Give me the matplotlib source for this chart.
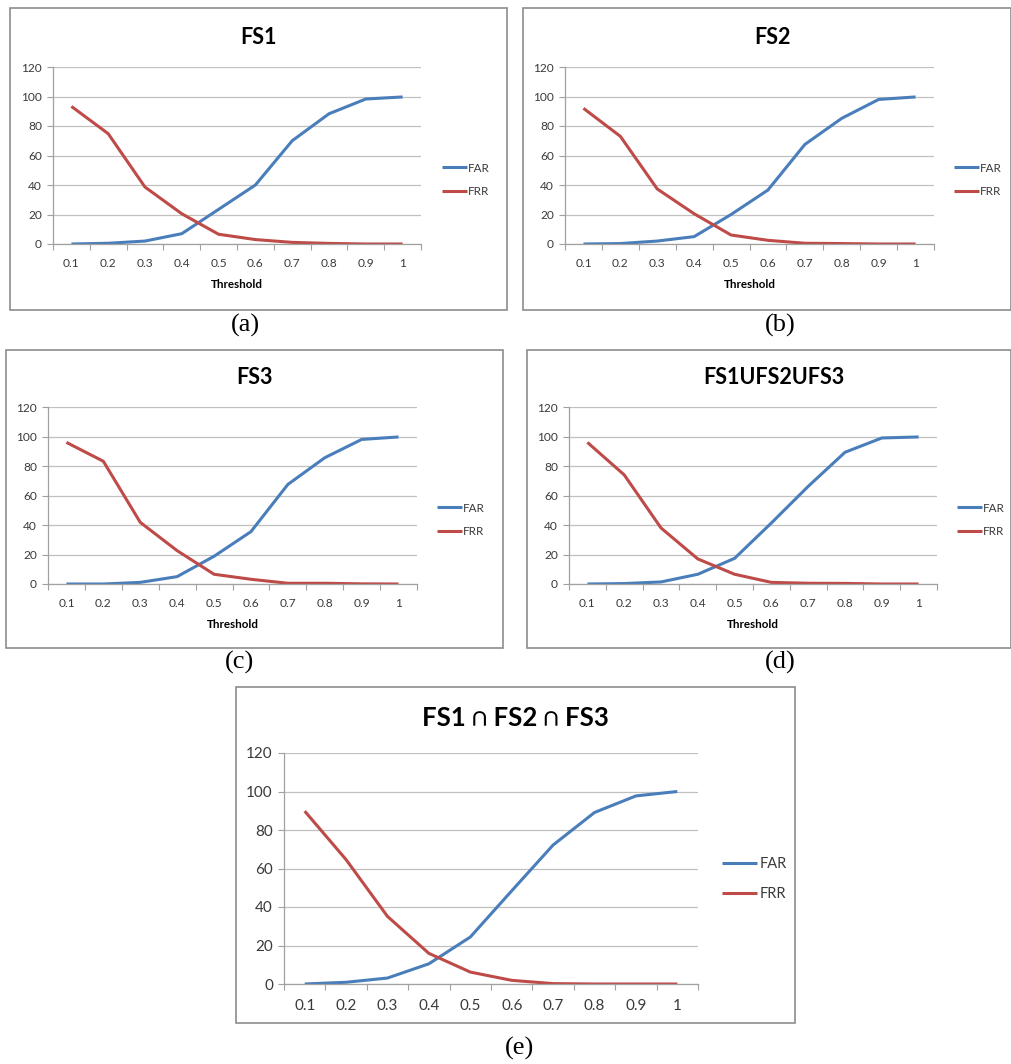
import matplotlib
matplotlib.use('Agg')
from matplotlib import pyplot as plt
from matplotlib.patches import Rectangle


###data###

thresholds = ['0.1', '0.2', '0.3', '0.4', '0.5', '0.6', '0.7', '0.8', '0.9', '1']

far_fs1 = [0, 0.5, 2, 7, 23.5, 40, 70, 88.3, 98.3, 99.7]
frr_fs1 = [93.3, 74.8, 38.6, 20.5, 6.6, 3, 1.1, 0.4, 0, 0]

far_fs2 = [0, 0.3, 2, 5, 20, 36.6, 67.5, 85.2, 98, 99.7]
frr_fs2 = [92, 73, 37.3, 20.5, 6.1, 2.5, 0.5, 0.3, 0, 0]

far_fs3 = [0, 0, 1.1, 5, 18.8, 35.5, 67.5, 85.6, 98, 99.7]
frr_fs3 = [96, 83.2, 41.8, 22.6, 6.6, 3.2, 0.5, 0.5, 0.1, 0]

far_union = [0, 0.3, 1.4, 6.6, 17.4, 41.4, 66.2, 89.3, 99, 99.7]
frr_union = [96, 74, 38, 17, 6.6, 1.1, 0.5, 0.4, 0, 0]

far_inter = [0, 0.9, 3.1, 10.5, 24.4, 48.4, 72.2, 89.1, 97.7, 100]
frr_inter = [89.8, 64.6, 35.1, 15.9, 6.2, 1.9, 0.2, 0, 0, 0]

titles = ['FS1', 'FS2', 'FS3', 'FS1UFS2UFS3', 'FS1 \u2229 FS2 \u2229 FS3']
sublabels = ['(a)', '(b)', '(c)', '(d)', '(e)']


###layout (pixels)###

W, H = 1011, 1064
BLUE = '#4a7ebb'
RED = '#be4b48'

plt.rcParams['font.family'] = ['Lato', 'DejaVu Sans']

fig = plt.figure(figsize=(W / 100, H / 100), dpi=100)


def fx(x):
    return x / W


def fy(y):
    return 1 - y / H


# box, axes, title pos, legend pos, sublabel pos, big (panel e), xlabel
panels = [
    ((10, 8, 507, 310), (53, 67, 421, 244), (258, 37), (442, 180), (245, 325), False, True),
    ((523, 8, 1011, 310), (565, 67, 934, 244), (772, 37), (954, 180), (780, 325), False, True),
    ((6, 350, 503, 648), (48, 407, 417, 584), (255, 377), (437, 520), (240, 662), False, True),
    ((527, 350, 1011, 648), (569, 407, 937, 584), (774, 377), (957, 520), (780, 662), False, True),
    ((236, 687, 795, 1023), (284, 753, 698, 984), (515, 718), (722, 879), (520, 1048), True, False),
]

series = [
    (far_fs1, frr_fs1),
    (far_fs2, frr_fs2),
    (far_fs3, frr_fs3),
    (far_union, frr_union),
    (far_inter, frr_inter),
]

for i, (box, ax_px, tpos, lpos, spos, big, show_xlabel) in enumerate(panels):
    # outer frame of each excel chart
    bx0, by0, bx1, by1 = box
    fig.patches.append(Rectangle((fx(bx0), fy(by1)), (bx1 - bx0) / W, (by1 - by0) / H,
                                 transform=fig.transFigure, fill=False,
                                 ec='#8c8c8c', lw=1.2))

    l, t, r, b = ax_px
    ax = fig.add_axes([fx(l), fy(b), (r - l) / W, (b - t) / H])
    far, frr = series[i]
    x = list(range(len(thresholds)))
    ax.plot(x, far, color=BLUE, lw=2.2, label='FAR', solid_capstyle='butt')
    ax.plot(x, frr, color=RED, lw=2.2, label='FRR', solid_capstyle='butt')

    fs = 11 if big else 8.6
    ax.set_xlim(-0.5, len(thresholds) - 0.5)
    ax.set_ylim(0, 120)
    ax.set_yticks(range(0, 121, 20))
    ax.set_xticks(x)
    ax.set_xticklabels(thresholds)
    ax.set_xticks([k - 0.5 for k in range(len(thresholds) + 1)], minor=True)
    ax.tick_params(axis='x', which='major', length=0, pad=11 if big else 10,
                   labelsize=fs, labelcolor='#3a3a3a')
    ax.tick_params(axis='x', which='minor', length=4, color='#a0a0a0', width=0.8)
    ax.tick_params(axis='y', length=4, color='#a0a0a0', width=0.8, pad=4,
                   labelsize=fs, labelcolor='#3a3a3a')
    ax.grid(axis='y', color='#c0c0c0', lw=0.9)
    ax.set_axisbelow(True)
    for s in ['top', 'right']:
        ax.spines[s].set_visible(False)
    for s in ['left', 'bottom']:
        ax.spines[s].set_color('#a0a0a0')
        ax.spines[s].set_linewidth(0.9)

    if show_xlabel:
        ax.set_xlabel('Threshold', fontsize=8.4, fontweight='bold', labelpad=7)

    fig.text(fx(tpos[0]), fy(tpos[1]), titles[i], ha='center', va='center',
             fontsize=18.5 if big else 15.5, fontweight='bold')

    ax.legend(loc='center left', bbox_to_anchor=(fx(lpos[0]), fy(lpos[1])),
              bbox_transform=fig.transFigure, frameon=False,
              handlelength=2.4 if big else 2.1, handletextpad=0.15,
              labelspacing=1.1, borderpad=0, borderaxespad=0,
              fontsize=10.5 if big else 8.4, labelcolor='#3a3a3a')

    fig.text(fx(spos[0]), fy(spos[1]), sublabels[i], ha='center', va='center',
             fontsize=19, family='Liberation Serif')

plt.savefig('out.png', dpi=100)
